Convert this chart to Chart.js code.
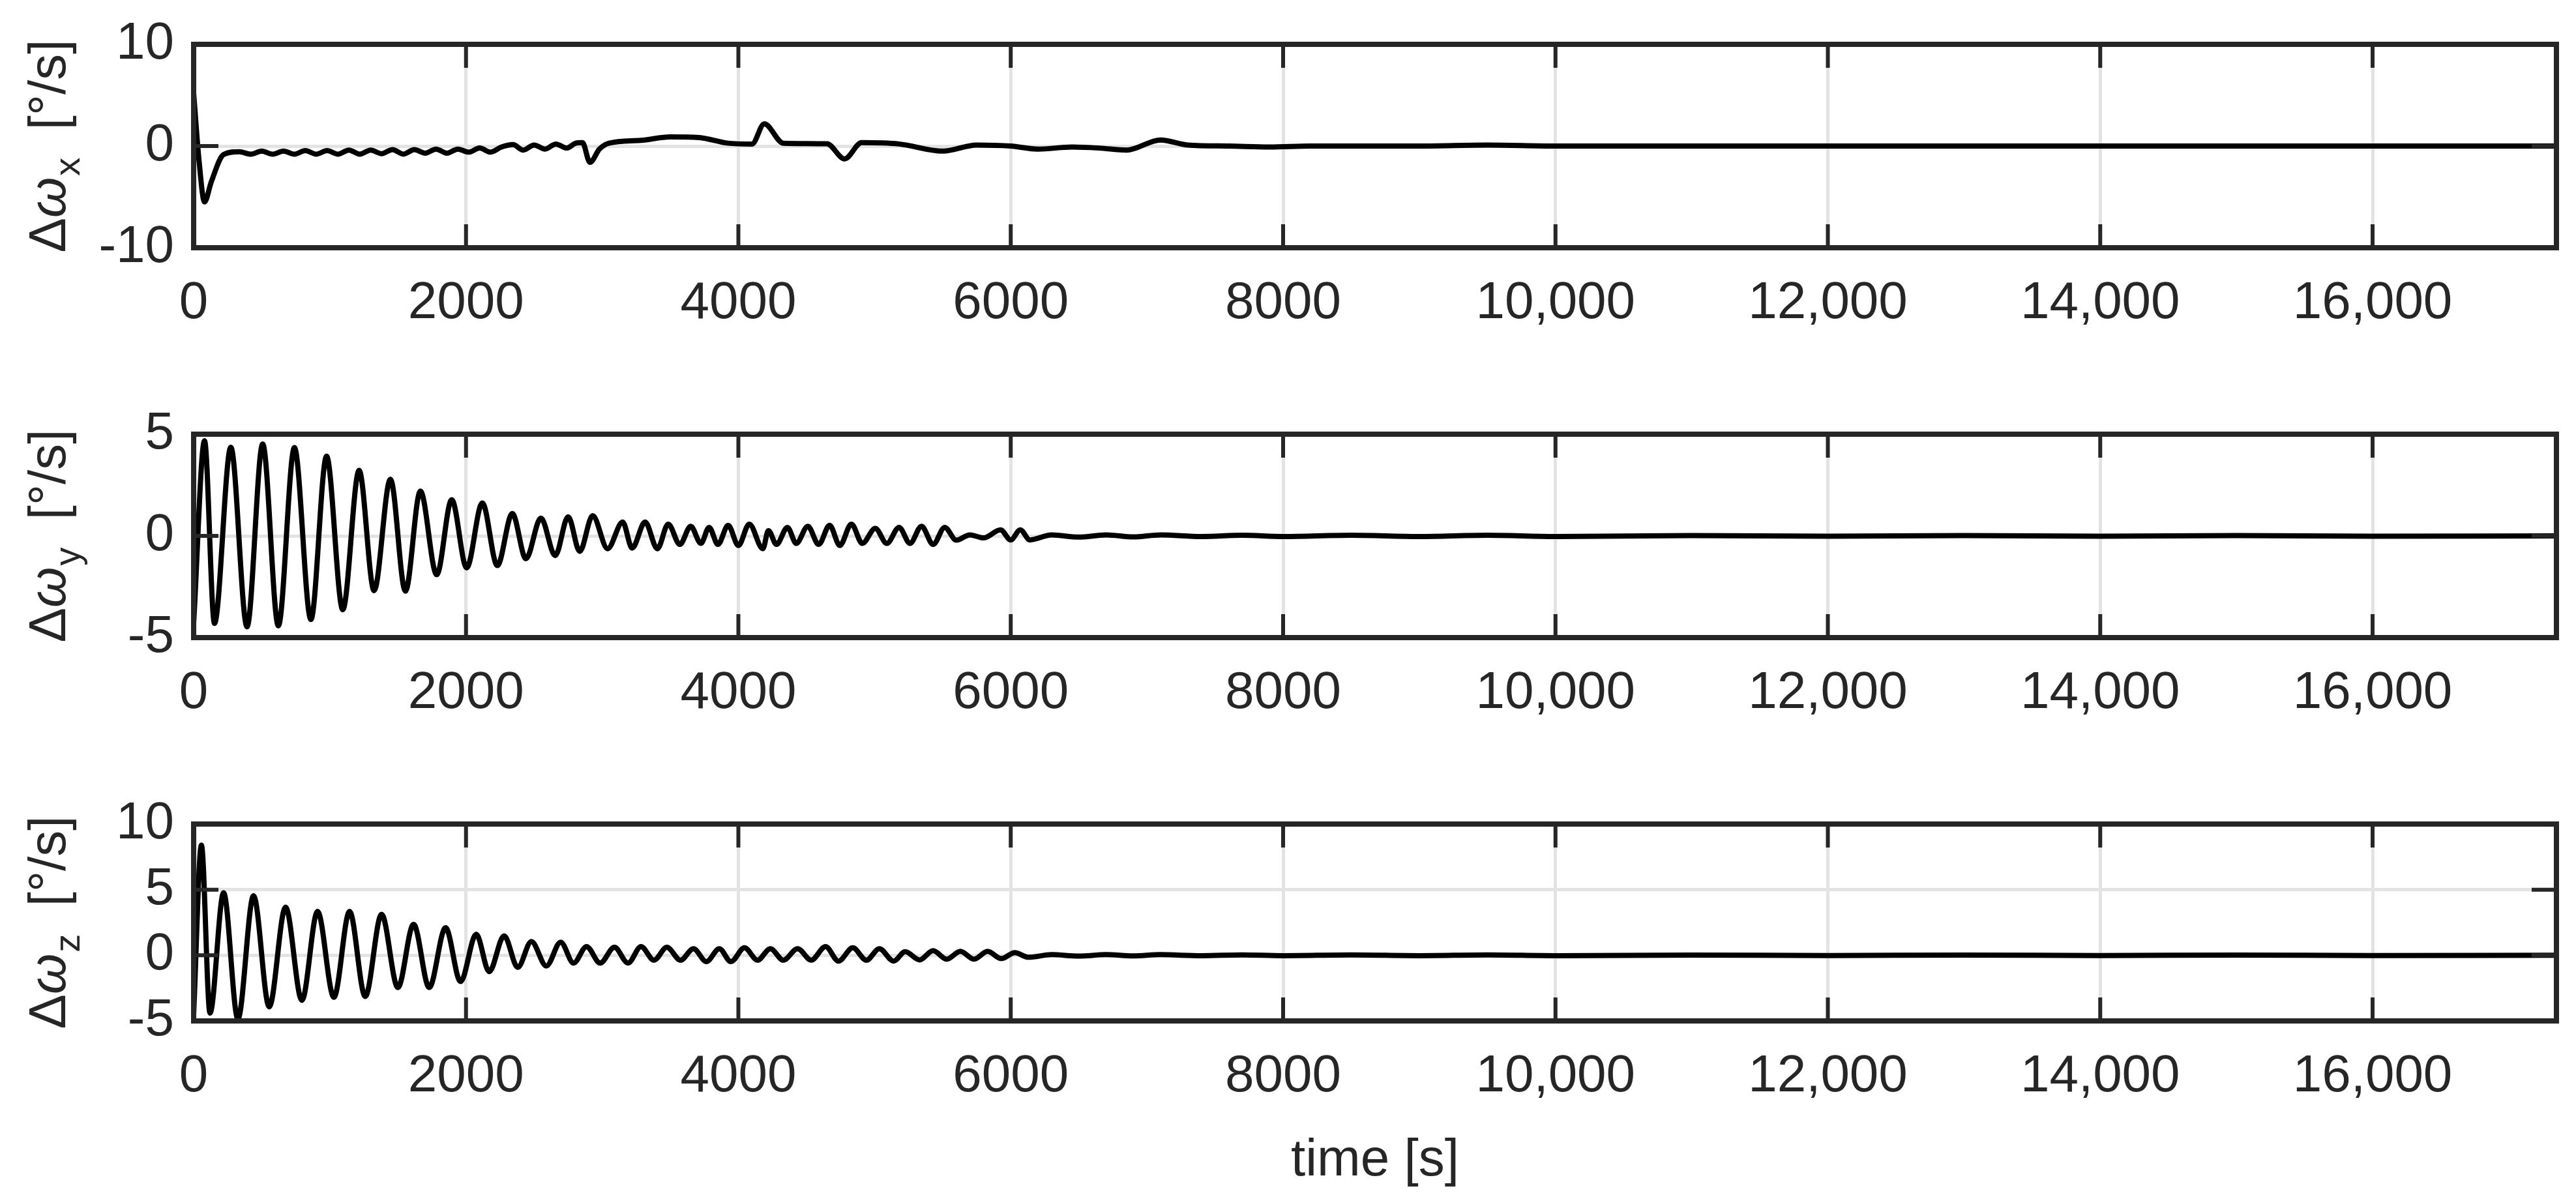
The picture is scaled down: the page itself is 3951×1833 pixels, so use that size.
<!DOCTYPE html>
<html>
<head>
<meta charset="utf-8">
<script src="https://cdn.jsdelivr.net/npm/chart.js@4/dist/chart.umd.min.js"></script>
<style>
  body { margin: 0; background: #fff; width: 3951px; height: 1833px; position: relative; overflow: hidden; }
  .pane { position: absolute; left: 0; width: 3951px; }
</style>
</head>
<body>
<div class="pane" style="top:-10px;height:552px"><canvas id="c1"></canvas></div>
<div class="pane" style="top:588px;height:552px"><canvas id="c2"></canvas></div>
<div class="pane" style="top:1186px;height:647px"><canvas id="c3"></canvas></div>
<script>
// time axis
var timeMax = 17350;
var timeTicks = [0, 2000, 4000, 6000, 8000, 10000, 12000, 14000, 16000];

// delta omega x [deg/s]
var tX = [0,40,80,130,220,335,420,500,580,660,740,820,900,980,1060,1140,1220,1300,1380,1460,1540,1620,1700,1780,1860,1940,2020,2100,2180,2260,2345,2420,2500,2580,2660,2740,2800,2855,2910,2980,3050,3285,3500,3710,3925,4100,4190,4330,4650,4780,4905,5180,5500,5750,6000,6200,6450,6650,6850,7100,7300,7600,7900,8200,9000,9500,10000,12000,14000,17350];
var wX = [5.2,-1.5,-5.5,-3.5,-0.84,-0.56,-0.8,-0.5,-0.8,-0.5,-0.8,-0.45,-0.8,-0.45,-0.8,-0.4,-0.8,-0.4,-0.75,-0.35,-0.8,-0.35,-0.7,-0.3,-0.7,-0.3,-0.6,-0.2,-0.6,-0.1,0.14,-0.4,0.1,-0.3,0.2,-0.2,0.25,0.33,-1.6,-0.3,0.28,0.56,0.9,0.84,0.28,0.2,2.18,0.28,0.22,-1.26,0.33,0.2,-0.5,0.1,0.0,-0.3,-0.1,-0.2,-0.4,0.6,0.1,0.0,-0.1,0,0,0.1,0,0,0,0];

// delta omega y [deg/s]
var tY = [0,80,153,273,392,507,622,740,861,976,1095,1215,1325,1445,1555,1665,1785,1895,2005,2120,2230,2340,2440,2550,2655,2750,2835,2930,3040,3150,3220,3315,3405,3485,3570,3650,3725,3785,3850,3925,4000,4080,4180,4220,4280,4360,4425,4510,4590,4670,4745,4830,4910,5005,5090,5180,5260,5345,5430,5515,5600,5700,5800,5925,6000,6070,6140,6300,6500,6700,6900,7100,7400,7700,8000,8500,9000,9500,10000,11000,12000,13000,14000,15000,16000,17350];
var wY = [-4.3,4.68,-4.3,4.36,-4.47,4.52,-4.42,4.34,-4.11,3.92,-3.63,3.22,-2.69,2.79,-2.72,2.2,-1.91,1.78,-1.57,1.62,-1.46,1.1,-1.12,0.87,-0.97,0.94,-0.76,0.99,-0.63,0.68,-0.6,0.68,-0.63,0.58,-0.42,0.47,-0.37,0.42,-0.42,0.52,-0.47,0.58,-0.63,0.26,-0.42,0.42,-0.37,0.47,-0.42,0.52,-0.47,0.58,-0.37,0.37,-0.37,0.42,-0.37,0.47,-0.42,0.42,-0.21,0.05,-0.1,0.3,-0.2,0.3,-0.2,0.05,-0.06,0.05,-0.05,0.05,-0.03,0.03,-0.03,0.03,-0.03,0.03,-0.03,0.02,-0.02,0.02,-0.02,0.02,-0.02,0];

// delta omega z [deg/s]
var tZ = [0,57,120,220,325,440,555,675,795,910,1030,1145,1260,1380,1500,1615,1730,1850,1960,2075,2170,2280,2380,2480,2590,2695,2790,2885,2985,3090,3190,3285,3380,3475,3575,3670,3765,3860,3945,4045,4140,4235,4330,4435,4535,4640,4735,4840,4940,5035,5140,5225,5330,5430,5530,5630,5730,5830,5930,6030,6130,6300,6500,6700,6900,7100,7400,7700,8000,8500,9000,9500,10000,11000,12000,13000,14000,15000,16000,17350];
var wZ = [-4.5,8.4,-4.4,4.76,-4.85,4.54,-3.93,3.67,-3.43,3.34,-3.2,3.34,-3.14,3.12,-2.45,2.36,-2.45,2.1,-2.0,1.6,-1.24,1.48,-0.92,1.05,-0.81,1.0,-0.59,0.66,-0.59,0.61,-0.59,0.66,-0.37,0.61,-0.37,0.5,-0.48,0.5,-0.48,0.57,-0.37,0.5,-0.37,0.5,-0.37,0.66,-0.44,0.57,-0.37,0.5,-0.44,0.28,-0.35,0.35,-0.3,0.3,-0.3,0.3,-0.25,0.2,-0.15,0.05,-0.06,0.05,-0.05,0.05,-0.03,0.03,-0.03,0.03,-0.03,0.03,-0.03,0.02,-0.02,0.02,-0.02,0.02,-0.02,0];

// y ranges and tick labels
var yTicksX = [-10, 0, 10];
var yTicksY = [-5, 0, 5];
var yTicksZ = [-5, 0, 5, 10];

var FONT = "'Liberation Sans', Arial, sans-serif";
var INK = "#262626";

function pairs(t, v) {
  return t.map(function (x, i) { return { x: x, y: v[i] }; });
}

// frame, inward ticks and the rotated y label with subscript
var framePlugin = {
  id: "frame",
  afterDraw: function (chart, args, opts) {
    var ctx = chart.ctx, a = chart.chartArea;
    var xs = chart.scales.x, ys = chart.scales.y;
    ctx.save();
    ctx.strokeStyle = INK;
    ctx.lineWidth = 6;
    xs.ticks.forEach(function (t) {
      var px = xs.getPixelForValue(t.value);
      ctx.beginPath();
      ctx.moveTo(px, a.top); ctx.lineTo(px, a.top + 36);
      ctx.moveTo(px, a.bottom); ctx.lineTo(px, a.bottom - 36);
      ctx.stroke();
    });
    ys.ticks.forEach(function (t) {
      var py = ys.getPixelForValue(t.value);
      ctx.beginPath();
      ctx.moveTo(a.left, py); ctx.lineTo(a.left + 38, py);
      ctx.moveTo(a.right, py); ctx.lineTo(a.right - 38, py);
      ctx.stroke();
    });
    ctx.lineWidth = 8;
    ctx.strokeRect(a.left, a.top, a.right - a.left, a.bottom - a.top);

    // y label: Δω_sub [°/s]
    var cy = (a.top + a.bottom) / 2;
    ctx.translate(72, cy);
    ctx.rotate(-Math.PI / 2);
    ctx.fillStyle = INK;
    ctx.textBaseline = "alphabetic";
    var f1 = "80px " + FONT, f2 = "italic 80px " + FONT, f3 = "56px " + FONT;
    ctx.font = f1; var w1 = ctx.measureText("\u0394").width;
    ctx.font = f2; var w2 = ctx.measureText("\u03c9").width;
    ctx.font = f3; var w3 = ctx.measureText(opts.sub).width;
    ctx.font = f1; var w4 = ctx.measureText("  [\u00b0/s]").width;
    var x0 = -(w1 + w2 + w3 + w4) / 2, base = 28;
    ctx.font = f1; ctx.fillText("\u0394", x0, base);
    ctx.font = f2; ctx.fillText("\u03c9", x0 + w1, base);
    ctx.font = f3; ctx.fillText(opts.sub, x0 + w1 + w2 + 2, base + 22);
    ctx.font = f1; ctx.fillText("  [\u00b0/s]", x0 + w1 + w2 + w3, base);
    ctx.restore();
  }
};

function makeChart(id, t, v, yTicks, sub, showTitle) {
  return new Chart(document.getElementById(id), {
    type: "line",
    data: {
      datasets: [{
        data: pairs(t, v),
        borderColor: "#000",
        borderWidth: 8,
        pointRadius: 0,
        cubicInterpolationMode: "monotone",
        fill: false
      }]
    },
    options: {
      responsive: true,
      maintainAspectRatio: false,
      animation: false,
      layout: { padding: { left: 0, right: 30, top: 60, bottom: 0 } },
      plugins: { legend: { display: false }, tooltip: { enabled: false }, frame: { sub: sub } },
      scales: {
        x: {
          type: "linear",
          min: 0,
          max: timeMax,
          afterBuildTicks: function (s) { s.ticks = timeTicks.map(function (x) { return { value: x }; }); },
          afterFit: function (s) { s.height = showTitle ? 267 : 162; },
          grid: { color: "#e3e3e3", lineWidth: 5, drawTicks: false },
          border: { display: false },
          ticks: {
            padding: 38,
            color: INK,
            font: { family: FONT, size: 80 },
            maxRotation: 0,
            callback: function (val) { return val >= 10000 ? val.toLocaleString("en-US") : String(val); }
          },
          title: {
            display: showTitle,
            text: "time [s]",
            color: INK,
            font: { family: FONT, size: 80 },
            padding: { top: 10 }
          }
        },
        y: {
          min: yTicks[0],
          max: yTicks[yTicks.length - 1],
          afterBuildTicks: function (s) { s.ticks = yTicks.map(function (x) { return { value: x }; }); },
          afterFit: function (s) { s.width = 297; },
          grid: { color: "#e3e3e3", lineWidth: 5, drawTicks: false },
          border: { display: false },
          ticks: { padding: 30, color: INK, font: { family: FONT, size: 80 } }
        }
      }
    },
    plugins: [framePlugin]
  });
}

makeChart("c1", tX, wX, yTicksX, "x", false);
makeChart("c2", tY, wY, yTicksY, "y", false);
makeChart("c3", tZ, wZ, yTicksZ, "z", true);
</script>
</body>
</html>
